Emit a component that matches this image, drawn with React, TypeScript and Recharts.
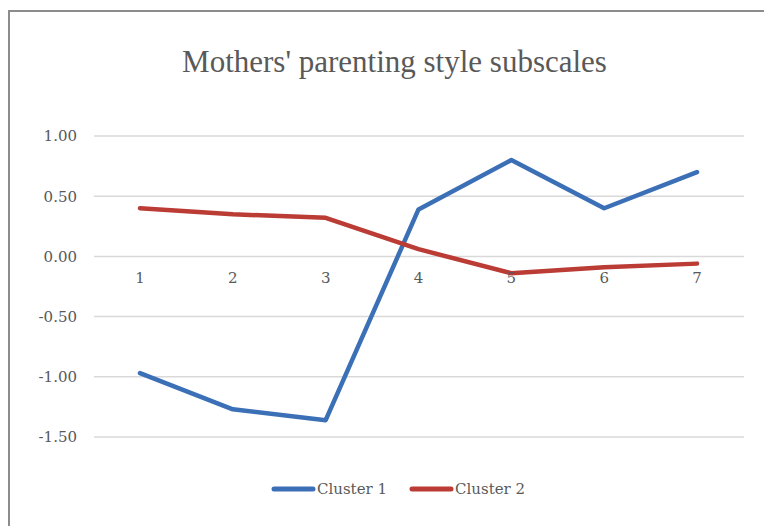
import React from "react";
import {
  LineChart,
  Line,
  XAxis,
  YAxis,
  CartesianGrid,
  Legend,
  ReferenceDot,
} from "recharts";

const categories = ["1", "2", "3", "4", "5", "6", "7"];
const cluster1 = [-0.97, -1.27, -1.36, 0.39, 0.8, 0.4, 0.7];
const cluster2 = [0.4, 0.35, 0.32, 0.06, -0.14, -0.09, -0.06];
const yTicks = [-1.5, -1.0, -0.5, 0, 0.5, 1.0];

const data = categories.map((c, i) => ({
  cat: c,
  c1: cluster1[i],
  c2: cluster2[i],
}));

const FONT = "'DejaVu Serif', serif";
const TITLE_FONT = "'Liberation Serif', serif";
const TEXT = "#595959";

function LegendContent(props: any) {
  const items = props.payload || [];
  return (
    <div style={{ display: "flex", justifyContent: "center", gap: 22, fontFamily: FONT, fontSize: 15, color: TEXT }}>
      {items.map((it: any) => (
        <div key={it.value} style={{ display: "flex", alignItems: "center" }}>
          <svg width={46} height={10}>
            <line x1={3} y1={5} x2={42} y2={5} stroke={it.color} strokeWidth={5} strokeLinecap="round" />
          </svg>
          <span>{it.value}</span>
        </div>
      ))}
    </div>
  );
}

export default function App() {
  return (
    <div style={{ position: "absolute", left: 0, top: 0, width: 764, height: 526, background: "#fff", overflow: "hidden" }}>
      <div
        style={{
          position: "absolute",
          left: 8,
          top: 10,
          width: 800,
          height: 600,
          borderLeft: "2px solid #8c8c8c",
          borderTop: "2px solid #8c8c8c",
        }}
      />
      <div
        style={{
          position: "absolute",
          left: 0,
          top: 44,
          width: 789,
          textAlign: "center",
          fontFamily: TITLE_FONT,
          fontSize: 31,
          lineHeight: "36px",
          color: TEXT,
        }}
      >
        Mothers' parenting style subscales
      </div>
      <div style={{ position: "absolute", left: 0, top: 0 }}>
        <LineChart width={764} height={526} data={data} margin={{ top: 136, right: 20, bottom: 89, left: 0 }}>
          <CartesianGrid vertical={false} stroke="#d9d9d9" strokeWidth={1.5} />
          <XAxis dataKey="cat" hide padding={{ left: 46, right: 47 }} />
          <YAxis
            width={94}
            domain={[-1.5, 1]}
            ticks={yTicks}
            tickFormatter={(v: number) => v.toFixed(2)}
            axisLine={false}
            tickLine={false}
            tickSize={0}
            tickMargin={17}
            tick={{ fill: TEXT, fontFamily: FONT, fontSize: 15 }}
          />
          {categories.map((c) => (
            <ReferenceDot
              key={c}
              x={c}
              y={0}
              r={0}
              fill="none"
              stroke="none"
              label={{ value: c, position: "bottom", offset: 16, fill: TEXT, fontFamily: FONT, fontSize: 15 }}
            />
          ))}
          <Line
            type="linear"
            dataKey="c1"
            name="Cluster 1"
            stroke="#3b70b7"
            strokeWidth={4.5}
            strokeLinecap="round"
            strokeLinejoin="round"
            dot={false}
            activeDot={false}
            isAnimationActive={false}
          />
          <Line
            type="linear"
            dataKey="c2"
            name="Cluster 2"
            stroke="#bb3b35"
            strokeWidth={4.5}
            strokeLinecap="round"
            strokeLinejoin="round"
            dot={false}
            activeDot={false}
            isAnimationActive={false}
          />
          <Legend verticalAlign="middle" wrapperStyle={{ top: 480, left: 0, width: 796 }} content={<LegendContent />} />
        </LineChart>
      </div>
    </div>
  );
}
